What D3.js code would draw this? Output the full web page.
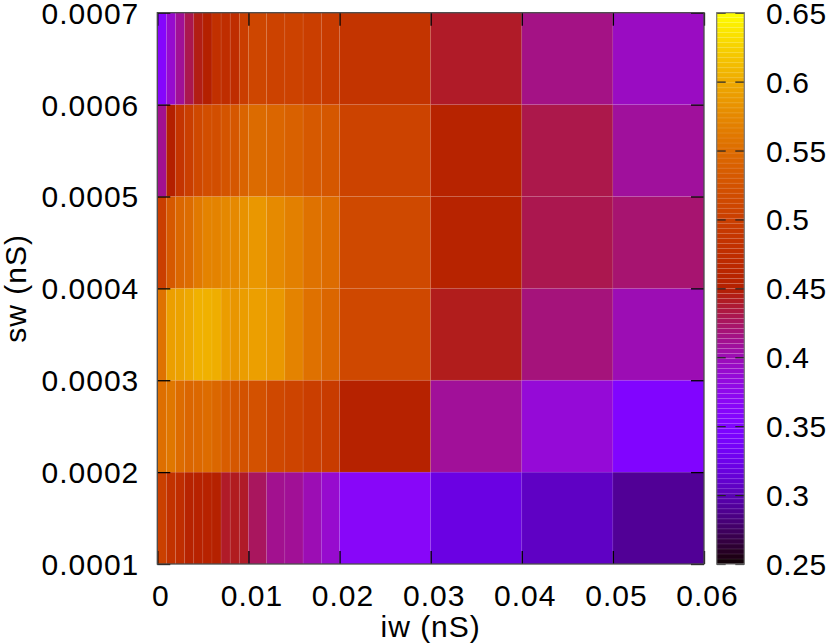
<!DOCTYPE html>
<html lang="en">

<head>
    <meta charset="utf-8">
    <title>iw / sw map</title>
    <script src="https://d3js.org/d3.v7.min.js"></script>
    <style>
        body {
            margin: 0;
            background: #fff;
        }

        svg text {
            font-family: "Liberation Sans", Arial, sans-serif;
            font-size: 30px;
            letter-spacing: 1px;
            fill: #000;
        }

        .cbar text {
            letter-spacing: 0.6px;
        }
    </style>
</head>

<body>
    <div id="graph"></div>
</body>
<script>
    // cell edges along x (iw) and y (sw)
    var iwEdges = [0, 0.001, 0.002, 0.003, 0.004, 0.005, 0.006, 0.007, 0.008, 0.009, 0.01,
        0.012, 0.014, 0.016, 0.018, 0.02, 0.03, 0.04, 0.05, 0.06];
    var swEdges = [0.0001, 0.0002, 0.0003, 0.0004, 0.0005, 0.0006, 0.0007];

    // one row per sw band, from the bottom up
    var row1 = [0.502, 0.482, 0.475, 0.457, 0.455, 0.455, 0.452, 0.440, 0.442, 0.440,
        0.426, 0.412, 0.410, 0.400, 0.390, 0.364, 0.320, 0.306, 0.290];
    var row2 = [0.553, 0.560, 0.550, 0.545, 0.547, 0.550, 0.546, 0.536, 0.530, 0.524,
        0.523, 0.513, 0.508, 0.500, 0.495, 0.454, 0.409, 0.386, 0.352];
    var row3 = [0.556, 0.592, 0.594, 0.598, 0.604, 0.604, 0.602, 0.590, 0.585, 0.590,
        0.592, 0.587, 0.570, 0.555, 0.545, 0.513, 0.443, 0.418, 0.400];
    var row4 = [0.500, 0.532, 0.546, 0.550, 0.562, 0.570, 0.570, 0.574, 0.575, 0.582,
        0.586, 0.576, 0.568, 0.556, 0.550, 0.514, 0.456, 0.430, 0.421];
    var row5 = [0.412, 0.450, 0.486, 0.500, 0.513, 0.520, 0.520, 0.526, 0.530, 0.543,
        0.549, 0.545, 0.540, 0.532, 0.530, 0.506, 0.456, 0.431, 0.408];
    var row6 = [0.360, 0.390, 0.410, 0.430, 0.445, 0.450, 0.480, 0.475, 0.475, 0.500,
        0.510, 0.505, 0.505, 0.500, 0.495, 0.485, 0.440, 0.415, 0.395];
    var rows = [row1, row2, row3, row4, row5, row6];

    var xTicks = [0, 0.01, 0.02, 0.03, 0.04, 0.05, 0.06];
    var yTicks = [0.0001, 0.0002, 0.0003, 0.0004, 0.0005, 0.0006, 0.0007];
    var cbTicks = [0.25, 0.3, 0.35, 0.4, 0.45, 0.5, 0.55, 0.6, 0.65];
    var CB_MIN = 0.25, CB_MAX = 0.65;

    var WIDTH = 830, HEIGHT = 644;
    var LEFT = 157.3, RIGHT = 704, TOP = 12.7, BOTTOM = 564;
    var CB_LEFT = 716.7, CB_RIGHT = 744.3;
    var TIC = 13;

    var svg = d3.select("#graph")
        .append("svg")
        .attr("width", WIDTH)
        .attr("height", HEIGHT);

    var x = d3.scaleLinear().domain([0, 0.06]).range([LEFT, RIGHT]);
    var y = d3.scaleLinear().domain([0.0001, 0.0007]).range([BOTTOM, TOP]);
    var cb = d3.scaleLinear().domain([CB_MIN, CB_MAX]).range([BOTTOM, TOP]);

    // gnuplot default palette (rgbformulae 7,5,15)
    function palette(v) {
        var t = Math.max(0, Math.min(1, (v - CB_MIN) / (CB_MAX - CB_MIN)));
        var r = Math.sqrt(t);
        var g = t * t * t;
        var b = Math.max(0, Math.sin(2 * Math.PI * t));
        return d3.rgb(r * 255, g * 255, b * 255);
    }

    // flatten rows into cells
    var cells = [];
    rows.forEach(function (row, j) {
        row.forEach(function (v, i) {
            cells.push({ x0: iwEdges[i], x1: iwEdges[i + 1], y0: swEdges[j], y1: swEdges[j + 1], v: v });
        });
    });

    svg.append("g")
        .selectAll("rect")
        .data(cells)
        .enter()
        .append("rect")
        .attr("x", d => x(d.x0))
        .attr("y", d => y(d.y1))
        .attr("width", d => x(d.x1) - x(d.x0))
        .attr("height", d => y(d.y0) - y(d.y1))
        .attr("fill", d => palette(d.v))
        .attr("stroke", "rgba(255,255,255,0.06)")
        .attr("stroke-width", 1);

    // ticks on all four sides, pointing inward
    var fmtX = d => String(+d.toFixed(2));
    var fmtY = d => String(+d.toFixed(4));

    var xAxis = svg.append("g")
        .attr("transform", "translate(0," + BOTTOM + ")")
        .call(d3.axisBottom(x).tickValues(xTicks).tickSize(-TIC).tickFormat(fmtX));
    xAxis.selectAll("text").attr("y", 42).attr("dy", null).attr("dx", 3);

    svg.append("g")
        .attr("transform", "translate(0," + TOP + ")")
        .call(d3.axisTop(x).tickValues(xTicks).tickSize(-TIC).tickFormat(""));

    var yAxis = svg.append("g")
        .attr("transform", "translate(" + LEFT + ",0)")
        .call(d3.axisLeft(y).tickValues(yTicks).tickSize(-TIC).tickFormat(fmtY));
    yAxis.selectAll("text").attr("x", -18).attr("dy", "0.35em");

    svg.append("g")
        .attr("transform", "translate(" + RIGHT + ",0)")
        .call(d3.axisRight(y).tickValues(yTicks).tickSize(-TIC).tickFormat(""));

    svg.selectAll(".domain").remove();
    svg.selectAll(".tick line").attr("stroke", "#000").attr("stroke-width", 1.3);

    svg.append("rect")
        .attr("x", LEFT)
        .attr("y", TOP)
        .attr("width", RIGHT - LEFT)
        .attr("height", BOTTOM - TOP)
        .attr("fill", "none")
        .attr("stroke", "#4a4a4a")
        .attr("stroke-width", 1.3);

    // axis titles
    svg.append("text")
        .attr("x", (LEFT + RIGHT) / 2)
        .attr("y", 637)
        .attr("text-anchor", "middle")
        .text("iw (nS)");

    svg.append("text")
        .attr("transform", "translate(26," + (TOP + BOTTOM) / 2 + ") rotate(-90)")
        .attr("text-anchor", "middle")
        .text("sw (nS)");

    // colour box, drawn in small steps like gnuplot does
    var steps = d3.range(110).map(i => CB_MIN + (CB_MAX - CB_MIN) * i / 110);
    var stepH = (CB_MAX - CB_MIN) / 110;

    svg.append("g")
        .selectAll("rect")
        .data(steps)
        .enter()
        .append("rect")
        .attr("x", CB_LEFT)
        .attr("y", d => cb(d + stepH))
        .attr("width", CB_RIGHT - CB_LEFT)
        .attr("height", d => cb(d) - cb(d + stepH))
        .attr("fill", d => palette(d + stepH / 2))
        .attr("stroke", "rgba(255,255,255,0.12)")
        .attr("stroke-width", 0.6);

    var cbAxis = svg.append("g")
        .attr("class", "cbar")
        .attr("transform", "translate(" + CB_RIGHT + ",0)")
        .call(d3.axisRight(cb).tickValues(cbTicks).tickSize(-9).tickFormat(fmtX));
    cbAxis.select(".domain").remove();
    cbAxis.selectAll("text").attr("x", 766 - CB_RIGHT).attr("dy", "0.35em");
    cbAxis.selectAll(".tick line").attr("stroke", "#222").attr("stroke-width", 1.2);

    svg.append("g")
        .attr("transform", "translate(" + CB_LEFT + ",0)")
        .call(d3.axisLeft(cb).tickValues(cbTicks).tickSize(-9).tickFormat(""))
        .call(g => g.select(".domain").remove())
        .selectAll(".tick line").attr("stroke", "#222").attr("stroke-width", 1.2);

    svg.append("rect")
        .attr("x", CB_LEFT)
        .attr("y", TOP)
        .attr("width", CB_RIGHT - CB_LEFT)
        .attr("height", BOTTOM - TOP)
        .attr("fill", "none")
        .attr("stroke", "#777")
        .attr("stroke-width", 1.2);
</script>

</html>
